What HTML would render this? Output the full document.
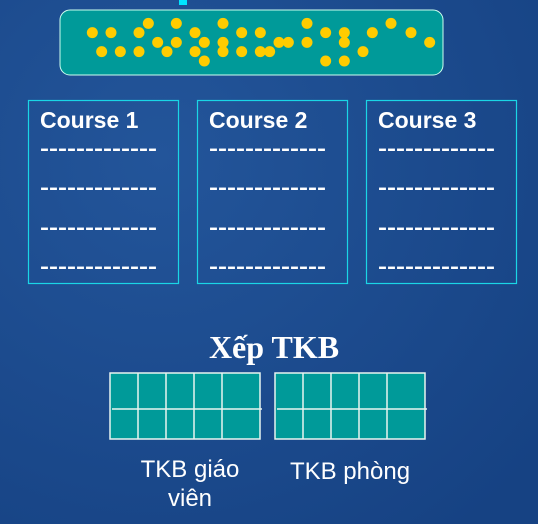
<!DOCTYPE html>
<html><head><meta charset="utf-8"><style>
html,body{margin:0;padding:0;}
body{width:538px;height:524px;overflow:hidden;background:#1b4886;}
svg{display:block}
</style></head><body>
<svg width="538" height="524" viewBox="0 0 538 524" xmlns="http://www.w3.org/2000/svg">
<defs>
<radialGradient id="g1" cx="0.3" cy="0.3" r="0.9"><stop offset="0" stop-color="#23559a"/><stop offset="1" stop-color="#164283"/></radialGradient>
</defs>
<rect width="538" height="524" fill="url(#g1)"/>
<rect x="179" y="0" width="8" height="5" fill="#00e5ff"/>
<rect x="60" y="10" width="383" height="65" rx="10" fill="#009a99" stroke="#cfe" stroke-width="1"/>
<g id="dots" fill="#ffcc00"></g>

<g>
<rect x="28.5" y="100.5" width="150" height="183" fill="none" stroke="#1ad6e6" stroke-width="1.2"/>
<text x="40" y="128" font-family="Liberation Sans, sans-serif" font-weight="bold" font-size="23" fill="#fff">Course 1</text>
</g>
<g>
<rect x="197.5" y="100.5" width="150" height="183" fill="none" stroke="#1ad6e6" stroke-width="1.2"/>
<text x="209" y="128" font-family="Liberation Sans, sans-serif" font-weight="bold" font-size="23" fill="#fff">Course 2</text>
</g>
<g>
<rect x="366.5" y="100.5" width="150" height="183" fill="none" stroke="#1ad6e6" stroke-width="1.2"/>
<text x="378" y="128" font-family="Liberation Sans, sans-serif" font-weight="bold" font-size="23" fill="#fff">Course 3</text>
</g>
<g id="dashes" font-family="Liberation Sans, sans-serif" font-weight="bold" font-size="20" fill="#fff"></g>

<text x="274" y="358" text-anchor="middle" font-family="Liberation Serif, serif" font-weight="bold" font-size="32" fill="#fff">Xếp TKB</text>
<g id="tables"></g>
<text x="190" y="477" text-anchor="middle" font-family="Liberation Sans, sans-serif" font-size="24" fill="#fff">TKB giáo</text>
<text x="190" y="506" text-anchor="middle" font-family="Liberation Sans, sans-serif" font-size="24" fill="#fff">viên</text>
<text x="350" y="479" text-anchor="middle" font-family="Liberation Sans, sans-serif" font-size="24" fill="#fff">TKB phòng</text>
</svg>
<script>
const NS="http://www.w3.org/2000/svg";
const dotX=[127,183,155,211,267,267,295,323,351,379,379,435,435,463,463,519,519,519,575,575,631,631,659,687,715,771,771,827,827,883,883,883,939,967,1023,1083,1139];
const dotY=[98,98,155,155,98,155,70,127,155,70,127,98,155,127,183,70,127,155,98,155,98,155,155,127,127,70,127,98,183,98,127,183,155,98,70,98,127];
const dg=document.getElementById('dots');
for(let i=0;i<dotX.length;i++){
  const c=document.createElementNS(NS,'circle');
  c.setAttribute('cx',50+dotX[i]/3);c.setAttribute('cy',dotY[i]/3);c.setAttribute('r',5.5);
  
  
  dg.appendChild(c);
}
const courseX=[40,209,378];
const dashY=[155,194,234,273];
const dsh=document.getElementById('dashes');
courseX.forEach(x=>dashY.forEach(y=>{
  const t=document.createElementNS(NS,'text');
  t.setAttribute('x',x);t.setAttribute('y',y);
  t.setAttribute('textLength',117);t.setAttribute('lengthAdjust','spacingAndGlyphs');
  t.textContent='-------------';
  
  
  dsh.appendChild(t);
}));
const tableX=[110,275];
const tg=document.getElementById('tables');
tableX.forEach(tx=>{
  const w=150,h=66,y=373;
  const r=document.createElementNS(NS,'rect');
  r.setAttribute('x',tx);r.setAttribute('y',y);r.setAttribute('width',w);r.setAttribute('height',h);
  r.setAttribute('fill','#009a99');r.setAttribute('stroke','#e8f4f0');r.setAttribute('stroke-width','1.5');
  
  
  tg.appendChild(r);
  const cw=[0,28,56,84,112];
  for(let i=1;i<5;i++){
    const l=document.createElementNS(NS,'line');
    l.setAttribute('x1',tx+cw[i]);l.setAttribute('x2',tx+cw[i]);l.setAttribute('y1',y);l.setAttribute('y2',y+h);
    l.setAttribute('stroke','#e8f4f0');l.setAttribute('stroke-width','1.5');
    
    
    tg.appendChild(l);
  }
  const m=document.createElementNS(NS,'line');
  m.setAttribute('x1',tx+2);m.setAttribute('x2',tx+w+2);m.setAttribute('y1',y+36);m.setAttribute('y2',y+36);
  m.setAttribute('stroke','#e8f4f0');m.setAttribute('stroke-width','1.5');
  
  
  tg.appendChild(m);
});
</script>
</body></html>
